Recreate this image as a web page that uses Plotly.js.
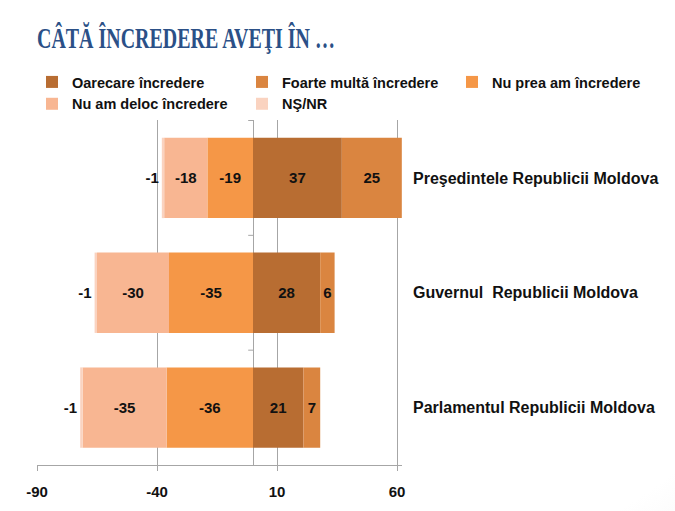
<!DOCTYPE html>
<html>
<head>
<meta charset="utf-8">
<script src="https://cdn.plot.ly/plotly-3.0.1.min.js"></script>
<style>
html,body{margin:0;padding:0;}
body{width:675px;height:511px;background:radial-gradient(ellipse 115% 110% at 42% 42%, #ffffff 68%, #ebebeb 100%);}
#chart{width:675px;height:511px;}
</style>
</head>
<body>
<div id="chart"></div>
<script>
var categories = ['Preşedintele Republicii Moldova', 'Guvernul\u00a0 Republicii Moldova', 'Parlamentul Republicii Moldova'];
var seriesNames = ['Oarecare încredere', 'Foarte multă încredere', 'Nu prea am încredere', 'Nu am deloc încredere', 'NŞ/NR'];
var oarecare = [37, 28, 21];
var foarteMulta = [25, 6, 7];
var nuPrea = [-19, -35, -36];
var nuDeloc = [-18, -30, -35];
var nsnr = [-1, -1, -1];
var tickVals = [-90, -40, 10, 60];

var colors = ['#B86D32', '#DA8540', '#F59747', '#F8B692', '#FAD3C0'];
var series = [oarecare, foarteMulta, nuPrea, nuDeloc, nsnr];

var labelFont = {family: 'Liberation Sans, Arial, sans-serif', size: 15, color: '#111', weight: 'bold'};

var traces = series.map(function (vals, i) {
  return {
    type: 'bar',
    orientation: 'h',
    name: seriesNames[i],
    y: categories,
    x: vals,
    width: 0.7,
    marker: {color: colors[i], line: {width: 0}},
    text: vals.map(String),
    texttemplate: '%{text}',
    textposition: i === 4 ? 'outside' : 'inside',
    insidetextanchor: 'middle',
    constraintext: 'none',
    textfont: labelFont,
    insidetextfont: labelFont,
    outsidetextfont: labelFont,
    cliponaxis: false,
    hoverinfo: 'skip'
  };
});

var gridCol = '#A6A6A6';
var layout = {
  width: 675,
  height: 511,
  paper_bgcolor: 'rgba(0,0,0,0)',
  plot_bgcolor: 'rgba(0,0,0,0)',
  barmode: 'relative',
  margin: {l: 37, r: 10, t: 120, b: 46},
  title: {
    text: '<b>CÂTĂ ÎNCREDERE AVEŢI ÎN …</b>',
    font: {family: 'Liberation Serif, serif', size: 30, color: '#2B5087'},
    xref: 'container', x: 37 / 675, xanchor: 'left',
    yref: 'container', y: 1 - 27 / 511, yanchor: 'top'
  },
  showlegend: true,
  legend: {
    orientation: 'h',
    x: (32 - 37) / 628, xanchor: 'left',
    y: 1 + (120 - 66) / 345, yanchor: 'top',
    entrywidth: 165, entrywidthmode: 'pixels',
    itemwidth: 30,
    traceorder: 'normal',
    bgcolor: 'rgba(0,0,0,0)',
    font: {family: 'Liberation Sans, Arial, sans-serif', size: 14.5, color: '#111', weight: 'bold'},
    tracegroupgap: 0
  },
  xaxis: {
    domain: [0, 365 / 628],
    range: [-90, 62.08],
    tickmode: 'array',
    tickvals: tickVals,
    ticktext: tickVals.map(String),
    showgrid: true,
    gridcolor: gridCol,
    gridwidth: 1,
    zeroline: true,
    zerolinecolor: gridCol,
    zerolinewidth: 1,
    showline: true,
    linecolor: gridCol,
    linewidth: 1,
    ticks: 'outside',
    ticklen: 5,
    tickcolor: gridCol,
    ticklabelstandoff: 8,
    tickfont: {family: 'Liberation Sans, Arial, sans-serif', size: 15, color: '#111', weight: 'bold'},
    fixedrange: true
  },
  yaxis: {
    type: 'category',
    categoryorder: 'array',
    categoryarray: categories,
    autorange: 'reversed',
    side: 'right',
    showgrid: false,
    zeroline: false,
    showline: false,
    ticks: '',
    ticklabelstandoff: 10,
    tickfont: {family: 'Liberation Sans, Arial, sans-serif', size: 16, color: '#111', weight: 'bold'},
    fixedrange: true
  },
  shapes: [-0.5, 0.5, 1.5].map(function (yv) {
    return {type: 'line', xref: 'x', yref: 'y', x0: -2, x1: 0, y0: yv, y1: yv,
            line: {color: gridCol, width: 1}};
  })
};

Plotly.newPlot('chart', traces, layout, {displayModeBar: false, staticPlot: true}).then(function (gd) {
  // condense the title horizontally, like the narrow serif face of the original slide
  var t = gd.querySelector('.gtitle');
  if (t) {
    var bb = t.getBBox();
    var targetW = 298;
    var sx = targetW / bb.width;
    var x0 = bb.x;
    t.setAttribute('transform', 'translate(' + (x0 * (1 - sx)) + ',0) scale(' + sx + ',1)');
  }
});
</script>
</body>
</html>
